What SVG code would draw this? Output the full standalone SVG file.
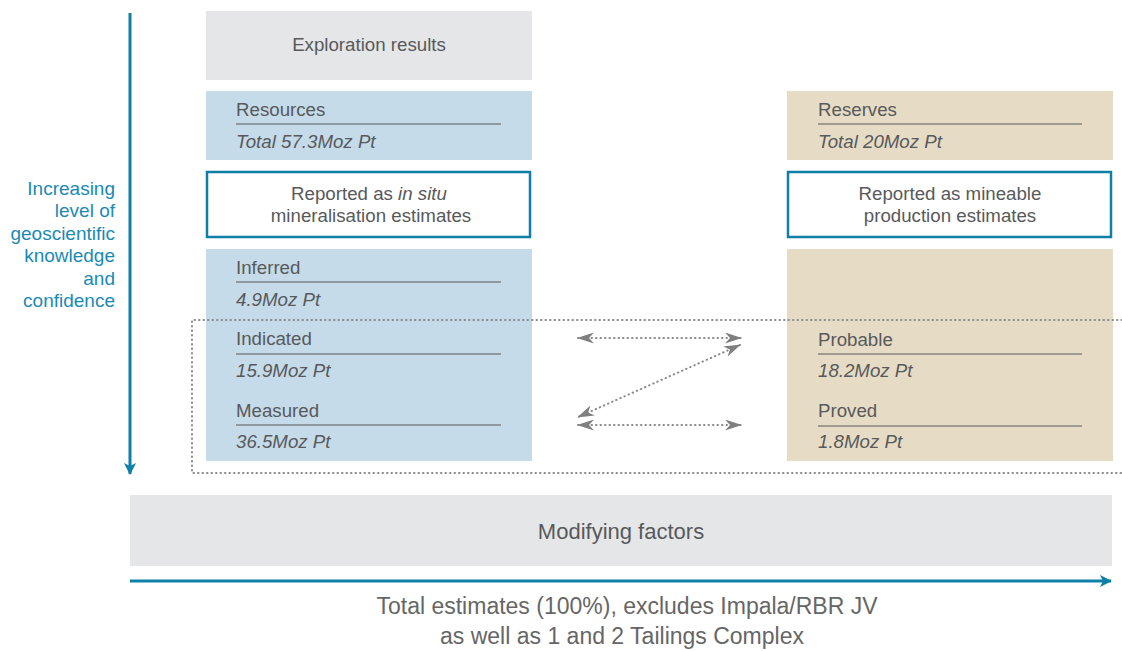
<svg xmlns="http://www.w3.org/2000/svg" width="1122" height="651" viewBox="0 0 1122 651">
<defs>
<style>
text{font-family:"Liberation Sans",Arial,sans-serif;fill:#58595b;font-size:18.7px}
.it{font-style:italic}
.c{text-anchor:middle}
.side{fill:#1a8ab5;text-anchor:end;font-size:19px}
.grey{fill:#e5e6e8}
.blue{fill:#c5dbe9}
.beige{fill:#e6dcc5}
.frame{fill:#fff;stroke:#0e7fa6;stroke-width:2.5}
.rule{stroke:#58595b;stroke-width:1.2}
.dot{fill:none;stroke:#8a8a8a;stroke-width:2;stroke-dasharray:0.5 4;stroke-linecap:round}
.axis{stroke:#0e7fa6;stroke-width:3;fill:none}
.foot{fill:#666;font-size:23px}
</style>
<marker id="ah" viewBox="0 0 17 11" refX="16" refY="5.5" markerWidth="17" markerHeight="11" markerUnits="userSpaceOnUse" orient="auto-start-reverse">
<path d="M0,0 L17,5.5 L0,11 L5,5.5 Z" fill="#7f7f7f"/>
</marker>
<marker id="ax" viewBox="0 0 12 12" refX="11" refY="6" markerWidth="12" markerHeight="12" markerUnits="userSpaceOnUse" orient="auto">
<path d="M0,0 L12,6 L0,12 L3,6 Z" fill="#0e7fa6"/>
</marker>
</defs>

<g id="axis-vertical">
<line class="axis" x1="130" y1="13" x2="130" y2="474" marker-end="url(#ax)"/>
<text class="side" x="115" y="195">Increasing</text>
<text class="side" x="115" y="217">level of</text>
<text class="side" x="115" y="240">geoscientific</text>
<text class="side" x="115" y="262">knowledge</text>
<text class="side" x="115" y="285">and</text>
<text class="side" x="115" y="307">confidence</text>
</g>

<g id="exploration">
<rect class="grey" x="206" y="11" width="326" height="69"/>
<text class="c" x="369" y="51">Exploration results</text>
</g>

<g id="resources">
<rect class="blue" x="206" y="91" width="326" height="69"/>
<text x="236" y="116">Resources</text>
<line class="rule" x1="236" y1="124" x2="501" y2="124"/>
<text class="it" x="236" y="148">Total 57.3Moz Pt</text>
</g>

<g id="insitu">
<rect class="frame" x="207" y="172" width="323" height="65"/>
<text class="c" x="369" y="200">Reported as <tspan class="it">in situ</tspan></text>
<text class="c" x="371" y="222">mineralisation estimates</text>
</g>

<g id="reserves">
<rect class="beige" x="787" y="91" width="326" height="69"/>
<text x="818" y="116">Reserves</text>
<line class="rule" x1="818" y1="124" x2="1082" y2="124"/>
<text class="it" x="818" y="148">Total 20Moz Pt</text>
</g>

<g id="mineable">
<rect class="frame" x="788" y="172" width="323" height="65"/>
<text class="c" x="950" y="200">Reported as mineable</text>
<text class="c" x="950" y="222">production estimates</text>
</g>

<g id="resource-categories">
<rect class="blue" x="206" y="249" width="326" height="212"/>
<text x="236" y="274">Inferred</text>
<line class="rule" x1="236" y1="282" x2="501" y2="282"/>
<text class="it" x="236" y="306">4.9Moz Pt</text>
<text x="236" y="345">Indicated</text>
<line class="rule" x1="236" y1="354" x2="501" y2="354"/>
<text class="it" x="236" y="377">15.9Moz Pt</text>
<text x="236" y="417">Measured</text>
<line class="rule" x1="236" y1="425" x2="501" y2="425"/>
<text class="it" x="236" y="448">36.5Moz Pt</text>
</g>

<g id="reserve-categories">
<rect class="beige" x="787" y="249" width="326" height="212"/>
<text x="818" y="346">Probable</text>
<line class="rule" x1="818" y1="354" x2="1082" y2="354"/>
<text class="it" x="818" y="377">18.2Moz Pt</text>
<text x="818" y="417">Proved</text>
<line class="rule" x1="818" y1="426" x2="1082" y2="426"/>
<text class="it" x="818" y="448">1.8Moz Pt</text>
</g>

<g id="connectors">
<path class="dot" d="M1122,320 L192,320 L192,473 L1122,473"/>
<line class="dot" x1="578" y1="338" x2="741" y2="338" marker-start="url(#ah)" marker-end="url(#ah)"/>
<line class="dot" x1="740" y1="345" x2="578" y2="417" marker-start="url(#ah)" marker-end="url(#ah)"/>
<line class="dot" x1="578" y1="425" x2="741" y2="425" marker-start="url(#ah)" marker-end="url(#ah)"/>
</g>

<g id="modifying">
<rect class="grey" x="130" y="495" width="982" height="71"/>
<text class="c" x="621" y="539" style="font-size:22px">Modifying factors</text>
</g>

<g id="axis-horizontal">
<line class="axis" x1="130" y1="581" x2="1111" y2="581" marker-end="url(#ax)"/>
<text class="c foot" x="627" y="614">Total estimates (100%), excludes Impala/RBR JV</text>
<text class="c foot" x="622" y="644">as well as 1 and 2 Tailings Complex</text>
</g>
</svg>
